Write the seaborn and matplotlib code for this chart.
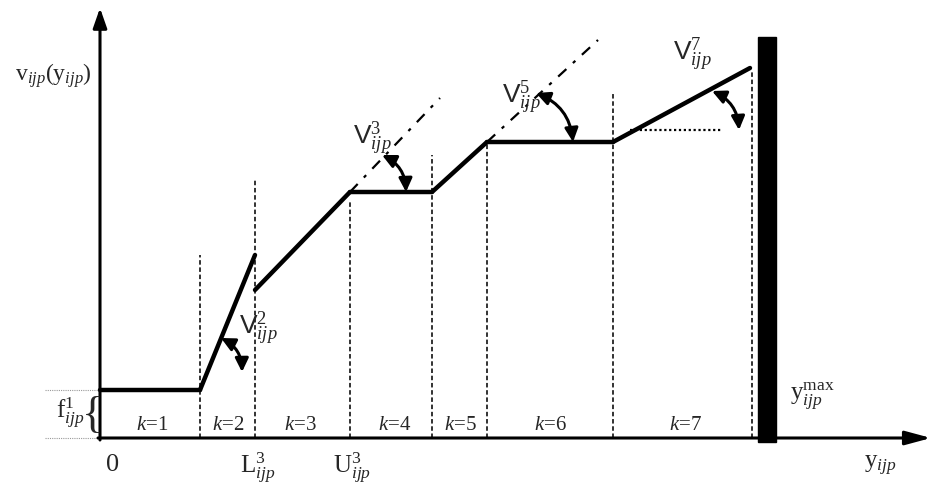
import pandas as pd
import seaborn as sns
import matplotlib.pyplot as plt
from matplotlib.patches import FancyArrowPatch, Rectangle

# piecewise linear cost curve v(y): start/end of each segment k=1..7 (drawing units)
seg_k = [1, 1, 2, 2, 3, 3, 4, 4, 5, 5, 6, 6, 7, 7]
seg_x = [0, 100, 100, 155, 155, 250, 250, 332, 332, 387, 387, 513, 513, 650]
seg_v = [48, 48, 48, 183, 148, 246, 246, 246, 246, 296, 296, 296, 296, 370]

# segment borders and the height where each dashed guide starts
break_x = [100, 155, 250, 332, 387, 513, 652]
break_top = [183, 258, 238, 283, 296, 346, 368]

# slope extensions (dash-dot) and the horizontal reference (dotted)
ext3_x, ext3_v = [250, 340], [246, 340]
ext5_x, ext5_v = [387, 498], [296, 398]
ref7_x, ref7_v = [530, 622], [308, 308]

y_max = 667
f1 = 48

k_labels = ['1', '2', '3', '4', '5', '6', '7']
k_pos = [52, 128, 200, 295, 360, 450, 585]

# angle markers: (start, end, label, label position)
angles = [
    ((121, 100), (142, 66), r'$\mathsf{V}^{2}_{ijp}$', (158, 110)),
    ((282, 283), (306, 246), r'$\mathsf{V}^{3}_{ijp}$', (272, 300)),
    ((436, 345), (473, 296), r'$\mathsf{V}^{5}_{ijp}$', (421, 341)),
    ((612, 347), (639, 308), r'$\mathsf{V}^{7}_{ijp}$', (592, 384)),
]

sns.set_theme(style='white')
plt.rcParams['font.family'] = ['Liberation Serif', 'DejaVu Serif']
plt.rcParams['mathtext.fontset'] = 'custom'
plt.rcParams['mathtext.rm'] = 'Liberation Serif'
plt.rcParams['mathtext.it'] = 'Liberation Serif:italic'
plt.rcParams['mathtext.sf'] = 'Liberation Sans'

fig = plt.figure(figsize=(9.31, 4.88), dpi=100)
ax = fig.add_axes([0, 0, 1, 1])
ax.set_xlim(-100, 831)
ax.set_ylim(-50, 438)
ax.axis('off')

# dashed guides
for bx, bt in zip(break_x, break_top):
    ax.plot([bx, bx], [0, bt], color='#222222', lw=1.3, ls=(0, (2.5, 1.5)))

# the curve itself
curve = pd.DataFrame({'k': seg_k, 'x': seg_x, 'v': seg_v})
sns.lineplot(data=curve, x='x', y='v', units='k', estimator=None,
             color='black', lw=3.2, sort=False, ax=ax)

ax.plot(ext3_x, ext3_v, color='black', lw=1.6, ls=(0, (5, 4, 1.5, 4)))
ax.plot(ext5_x, ext5_v, color='black', lw=1.6, ls=(0, (5, 4, 1.5, 4)))
ax.plot(ref7_x, ref7_v, color='black', lw=1.6, ls=(0, (1, 1.2)))

# faint guides left of the v axis
ax.plot([-55, 0], [f1, f1], color='#999999', lw=0.8, ls=(0, (1, 1)))
ax.plot([-55, 0], [0, 0], color='#999999', lw=0.8, ls=(0, (1, 1)))

# axes with arrowheads
ax.annotate('', xy=(0, 430), xytext=(0, -2),
            arrowprops=dict(arrowstyle='-|>,head_length=1.0,head_width=0.35',
                            color='black', lw=2.2, shrinkA=0, shrinkB=0))
ax.annotate('', xy=(831, 0), xytext=(-2, 0),
            arrowprops=dict(arrowstyle='-|>,head_length=1.3,head_width=0.35',
                            color='black', lw=2.2, shrinkA=0, shrinkB=0))

# capacity wall
ax.add_patch(Rectangle((y_max - 9, -4), 18, 405, color='black', zorder=5))

# angle arrows
for start, end, lab, lp in angles:
    ax.add_patch(FancyArrowPatch(start, end, connectionstyle='arc3,rad=-0.3',
                                 arrowstyle='<|-|>,head_length=0.45,head_width=0.22',
                                 mutation_scale=18, color='black', lw=2.2,
                                 shrinkA=0, shrinkB=0))
    ax.text(lp[0], lp[1], lab, fontsize=19, ha='center', va='center')

for lab, kx in zip(k_labels, k_pos):
    ax.text(kx, 12, r'$k$=' + lab, fontsize=15, ha='center', va='center')

ax.text(-47, 362, r'$\mathrm{v}_{ijp}(\mathrm{y}_{ijp})$', fontsize=17, ha='center', va='center')
ax.text(-7, 22, '{', fontsize=32, ha='center', va='center', family='Liberation Serif')
ax.text(-30, 25, r'$\mathrm{f}^{1}_{ijp}$', fontsize=18, ha='center', va='center')
ax.text(13, -27, '0', fontsize=19, ha='center', va='center')
ax.text(158, -30, r'$\mathrm{L}^{3}_{ijp}$', fontsize=18, ha='center', va='center')
ax.text(252, -30, r'$\mathrm{U}^{3}_{ijp}$', fontsize=18, ha='center', va='center')
ax.text(780, -28, r'$\mathrm{y}_{ijp}$', fontsize=18, ha='center', va='center')
ax.text(712, 42, r'$\mathrm{y}^{\mathrm{max}}_{ijp}$', fontsize=18, ha='center', va='center')

plt.savefig('out.png', dpi=100)
plt.close()
